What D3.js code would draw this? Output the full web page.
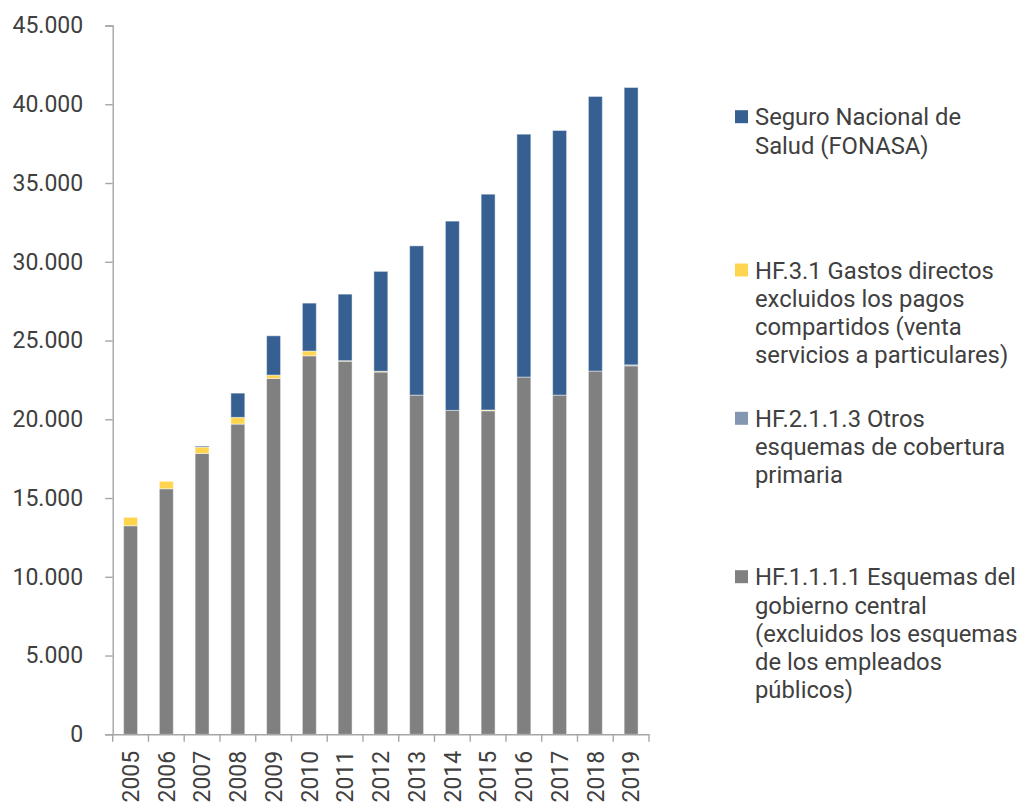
<!DOCTYPE html>
<html>
<head>
<meta charset="utf-8">
<script src="https://cdn.jsdelivr.net/npm/d3@7"></script>
<style>
  html, body { margin: 0; padding: 0; background: #ffffff; }
  svg { display: block; }
  text { font-family: Roboto, "Noto Sans", sans-serif; fill: #404040; }
</style>
</head>
<body>
<svg id="chart" width="1022" height="802"></svg>
<script>
// Years on the category axis
const years = ["2005","2006","2007","2008","2009","2010","2011","2012","2013","2014","2015","2016","2017","2018","2019"];

// Series values (stacked bottom to top)
const gobiernoCentral = [13240, 15590, 17835, 19695, 22595, 24030, 23690, 23000, 21535, 20565, 20540, 22680, 21535, 23060, 23395];
const otrosEsquemas   = [0, 0, 0, 0, 0, 0, 0, 0, 0, 0, 0, 0, 0, 0, 60];
const gastosDirectos  = [535, 470, 400, 425, 210, 300, 30, 50, 0, 0, 50, 0, 0, 0, 0];
const fonasa          = [0, 0, 65, 1540, 2495, 3045, 4225, 6340, 9475, 12015, 13700, 15420, 16800, 17435, 17610];

// Y axis tick values
const yTicks = [0, 5000, 10000, 15000, 20000, 25000, 30000, 35000, 40000, 45000];

// Legend entries, listed top to bottom
const legendNames = ["Seguro Nacional de Salud (FONASA)",
  "HF.3.1 Gastos directos excluidos los pagos compartidos (venta servicios a particulares)",
  "HF.2.1.1.3 Otros esquemas de cobertura primaria",
  "HF.1.1.1.1 Esquemas del gobierno central (excluidos los esquemas de los empleados públicos)"];
const legendLines = [
  ["Seguro Nacional de", "Salud (FONASA)"],
  ["HF.3.1 Gastos directos", "excluidos los pagos", "compartidos (venta", "servicios a particulares)"],
  ["HF.2.1.1.3 Otros", "esquemas de cobertura", "primaria"],
  ["HF.1.1.1.1 Esquemas del", "gobierno central", "(excluidos los esquemas", "de los empleados", "públicos)"]
];

const seriesKeys = ["gob", "otros", "gastos", "fonasa"];
const colors = { gob: "#808080", otros: "#8497b0", gastos: "#ffd54f", fonasa: "#366092" };
const legendKeys = ["fonasa", "gastos", "otros", "gob"];

const rows = years.map((y, i) => ({
  year: y, gob: gobiernoCentral[i], otros: otrosEsquemas[i], gastos: gastosDirectos[i], fonasa: fonasa[i]
}));

const svg = d3.select("#chart");
const plot = { left: 112.7, right: 649, top: 25.5, bottom: 734.3 };

const x = d3.scaleBand().domain(years).range([plot.left, plot.right]).paddingInner(0).paddingOuter(0);
const y = d3.scaleLinear().domain([0, 45000]).range([plot.bottom, plot.top]);
const barW = x.bandwidth() * 0.39;

// Stacked columns
const stack = d3.stack().keys(seriesKeys)(rows);
svg.append("g").selectAll("g").data(stack).join("g")
  .attr("fill", d => colors[d.key])
  .selectAll("rect").data(d => d.filter(p => p[1] - p[0] > 0)).join("rect")
  .attr("x", d => x(d.data.year) + (x.bandwidth() - barW) / 2)
  .attr("width", barW)
  .attr("y", d => y(d[1]))
  .attr("height", d => Math.max(0, y(d[0]) - y(d[1])))
  .attr("stroke", "rgba(255,255,255,0.45)")
  .attr("stroke-width", 1);

const axisColor = "#a6a6a6";

// Y axis
const yAxis = svg.append("g").attr("transform", `translate(${plot.left},0)`)
  .call(d3.axisLeft(y).tickValues(yTicks).tickSize(7.5).tickPadding(22)
    .tickFormat(d => d3.format(",")(d).replace(/,/g, ".")));
yAxis.select(".domain").attr("stroke", axisColor).attr("stroke-width", 1.4);
yAxis.selectAll(".tick line").attr("stroke", axisColor).attr("stroke-width", 1.4);
yAxis.selectAll(".tick text").attr("font-size", 23).attr("fill", "#404040")
  .attr("font-family", "Roboto, 'Noto Sans', sans-serif");

// X axis: labels at band centres, tick marks at band boundaries
const xAxis = svg.append("g").attr("transform", `translate(0,${plot.bottom})`)
  .call(d3.axisBottom(x).tickSize(0).tickPadding(0));
xAxis.select(".domain").attr("stroke", axisColor).attr("stroke-width", 1.4);
xAxis.selectAll(".tick text")
  .attr("font-size", 23).attr("fill", "#404040")
  .attr("font-family", "Roboto, 'Noto Sans', sans-serif")
  .attr("text-anchor", "end")
  .attr("transform", "translate(0,16.5) rotate(-90)")
  .attr("x", 0).attr("y", 0).attr("dy", "0.36em");
const bounds = years.map(d => x(d)).concat([x(years[years.length - 1]) + x.bandwidth()]);
xAxis.selectAll("line.bound").data(bounds).join("line").attr("class", "bound")
  .attr("x1", d => d).attr("x2", d => d).attr("y1", 0).attr("y2", 7.5)
  .attr("stroke", axisColor).attr("stroke-width", 1.4);

// Legend
const legendX = 735, textX = 755, lineH = 28.3;
const legendTop = [116.7, 270, 418.3, 576.7];
const lg = svg.append("g");
legendKeys.forEach((k, i) => {
  const g = lg.append("g").attr("transform", `translate(0,${legendTop[i]})`);
  g.append("rect").attr("x", legendX).attr("y", -6.5).attr("width", 13).attr("height", 13)
    .attr("fill", colors[k]);
  const t = g.append("text").attr("font-size", 23.8).attr("x", textX).attr("y", 0);
  t.selectAll("tspan").data(legendLines[i]).join("tspan")
    .attr("x", textX).attr("y", (d, j) => j * lineH).attr("dy", "0.36em").text(d => d);
  g.append("title").text(legendNames[i]);
});
</script>
</body>
</html>
